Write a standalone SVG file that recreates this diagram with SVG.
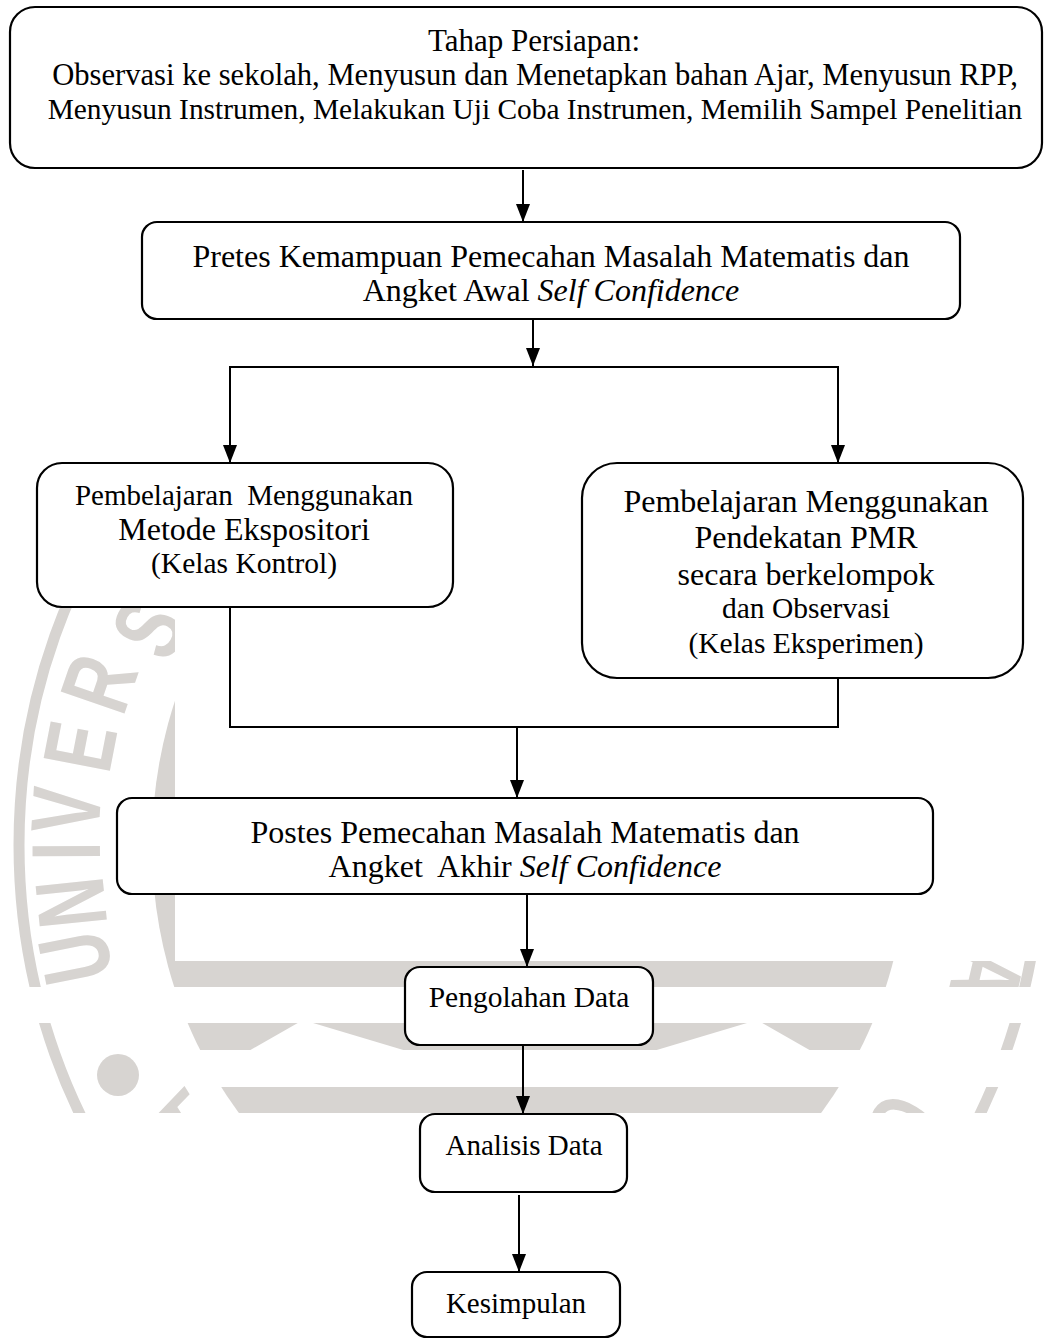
<svg xmlns="http://www.w3.org/2000/svg" width="1044" height="1344" viewBox="0 0 1044 1344">
<defs>
<style>
.box{fill:#fff;stroke:#000;stroke-width:2.2}
.t{font-family:"Liberation Serif","Times New Roman",serif;fill:#000;text-anchor:middle}
.c{fill:none;stroke:#000;stroke-width:2}
.wm{fill:#d7d4d1}
.wl{font-family:"Liberation Sans",Arial,sans-serif;font-weight:bold;font-size:98px;fill:#d7d4d1;text-anchor:middle}
</style>
<marker id="ah" markerUnits="userSpaceOnUse" markerWidth="18" markerHeight="14" refX="18" refY="7" orient="auto"><path d="M0,0 L18,7 L0,14 z" fill="#000"/></marker>
<clipPath id="wmclip">
<rect x="0" y="590" width="175" height="397"/>
<rect x="0" y="961" width="1044" height="26"/>
<rect x="0" y="1023" width="1044" height="27"/>
<rect x="0" y="1050" width="200" height="37"/>
<rect x="0" y="1087" width="1044" height="26"/>
</clipPath>
</defs>
<rect width="1044" height="1344" fill="#fff"/>
<g id="watermark" clip-path="url(#wmclip)">
<ellipse cx="530" cy="845" rx="511" ry="568" fill="none" stroke="#d7d4d1" stroke-width="11"/>
<ellipse class="wm" cx="530" cy="845" rx="378" ry="420"/>
<polygon points="757,1020 650,1052 813,1052" fill="#fff"/>
<polygon points="303,1020 247,1052 410,1052" fill="#fff"/>
<circle class="wm" cx="118" cy="1075" r="21"/>
<text class="wl" transform="translate(74 958) rotate(-101.3) scale(0.7 1)" y="35">U</text>
<text class="wl" transform="translate(70 903) rotate(-95.8) scale(0.7 1)" y="35">N</text>
<text class="wl" transform="translate(65 851) rotate(-90.2) scale(0.7 1)" y="35">I</text>
<text class="wl" transform="translate(65 810) rotate(-86.5) scale(0.7 1)" y="35">V</text>
<text class="wl" transform="translate(79 746) rotate(-79) scale(0.7 1)" y="35">E</text>
<text class="wl" transform="translate(98 683) rotate(-71) scale(0.7 1)" y="35">R</text>
<text class="wl" transform="translate(148 628) rotate(-62) scale(0.7 1)" y="35">S</text>
<text class="wl" transform="translate(988 975) rotate(103) scale(0.7 1)" y="35">A</text>
<text class="wl" transform="translate(905 1128) rotate(121) scale(0.7 1)" y="35">O</text>
<text class="wl" transform="translate(167 1124) rotate(-122) scale(0.7 1)" y="35">A</text>
</g>
<g id="connectors">
<line class="c" x1="523" y1="170" x2="523" y2="222" marker-end="url(#ah)"/>
<line class="c" x1="533" y1="319" x2="533" y2="366" marker-end="url(#ah)"/>
<path class="c" d="M533 367 H230 V463" marker-end="url(#ah)"/>
<path class="c" d="M533 367 H838 V463" marker-end="url(#ah)"/>
<path class="c" d="M230 607 V727 H838 V678"/>
<line class="c" x1="517" y1="727" x2="517" y2="798" marker-end="url(#ah)"/>
<line class="c" x1="527" y1="894" x2="527" y2="967" marker-end="url(#ah)"/>
<line class="c" x1="523" y1="1045" x2="523" y2="1114" marker-end="url(#ah)"/>
<line class="c" x1="519" y1="1195" x2="519" y2="1272" marker-end="url(#ah)"/>
</g>
<g id="n1">
<rect class="box" x="10" y="7" width="1032" height="161" rx="25"/>
<text class="t"><tspan x="534" y="51" font-size="31">Tahap Persiapan:</tspan><tspan x="535" y="85" font-size="30.6">Observasi ke sekolah, Menyusun dan Menetapkan bahan Ajar, Menyusun RPP,</tspan><tspan x="535" y="119" font-size="29.4">Menyusun Instrumen, Melakukan Uji Coba Instrumen, Memilih Sampel Penelitian</tspan></text>
</g>
<g id="n2">
<rect class="box" x="142" y="222" width="818" height="97" rx="15"/>
<text class="t" font-size="32"><tspan x="551" y="267">Pretes Kemampuan Pemecahan Masalah Matematis dan</tspan><tspan x="551" y="301">Angket Awal </tspan><tspan font-style="italic">Self Confidence</tspan></text>
</g>
<g id="n3">
<rect class="box" x="37" y="463" width="416" height="144" rx="25"/>
<text class="t"><tspan x="244" y="505" font-size="29">Pembelajaran&#160; Menggunakan</tspan><tspan x="244" y="540" font-size="32">Metode Ekspositori</tspan><tspan x="244" y="573" font-size="29.5">(Kelas Kontrol)</tspan></text>
</g>
<g id="n4">
<rect class="box" x="582" y="463" width="441" height="215" rx="35"/>
<text class="t"><tspan x="806" y="512" font-size="32">Pembelajaran Menggunakan</tspan><tspan x="806" y="548" font-size="32">Pendekatan PMR</tspan><tspan x="806" y="585" font-size="32">secara berkelompok</tspan><tspan x="806" y="618" font-size="29.5">dan Observasi</tspan><tspan x="806" y="653" font-size="29.5">(Kelas Eksperimen)</tspan></text>
</g>
<g id="n5">
<rect class="box" x="117" y="798" width="816" height="96" rx="15"/>
<text class="t" font-size="32"><tspan x="525" y="843">Postes Pemecahan Masalah Matematis dan</tspan><tspan x="525" y="877">Angket&#160; Akhir </tspan><tspan font-style="italic">Self Confidence</tspan></text>
</g>
<g id="n6">
<rect class="box" x="405" y="967" width="248" height="78" rx="15"/>
<text class="t" font-size="29.5" x="529" y="1007">Pengolahan Data</text>
</g>
<g id="n7">
<rect class="box" x="420" y="1114" width="207" height="78" rx="15"/>
<text class="t" font-size="29" x="524" y="1155">Analisis Data</text>
</g>
<g id="n8">
<rect class="box" x="412" y="1272" width="208" height="65" rx="15"/>
<text class="t" font-size="29" x="516" y="1313">Kesimpulan</text>
</g>
</svg>
